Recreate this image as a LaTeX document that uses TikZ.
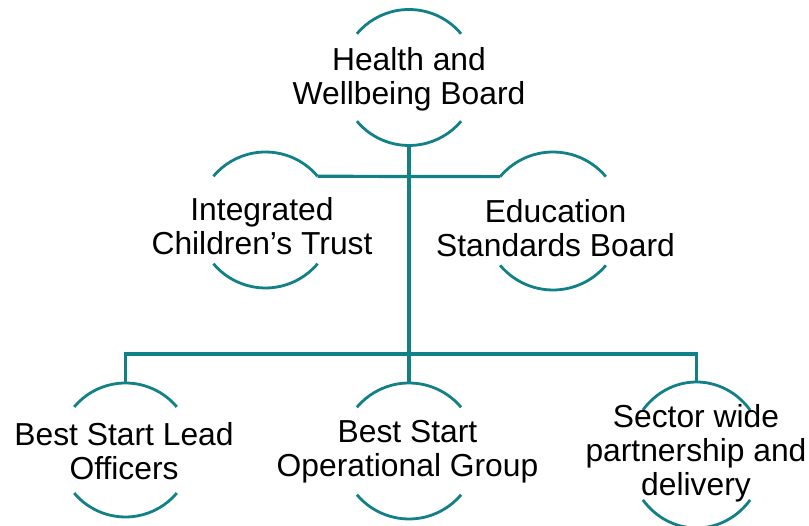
\documentclass[tikz,border=0pt]{standalone}
\usepackage{fontspec}
\setmainfont{Liberation Sans}
\usetikzlibrary{shapes.geometric}
\definecolor{teal1}{RGB}{18,128,135}
\begin{document}
\begin{tikzpicture}[x=1pt,y=1pt,
  bub/.style={circle,draw=none,inner sep=0pt,outer sep=0pt,minimum size=#1},
  ebub/.style={ellipse,draw=none,inner sep=0pt,outer sep=0pt,minimum width=136pt,minimum height=146pt},
  txt/.style={align=center,font=\fontsize{31.8}{34}\selectfont,inner sep=0pt},
  ln/.style={draw=teal1,line width=3.2pt},
  ar/.style={draw=teal1,line width=2.8pt}]
\useasboundingbox (0,0) rectangle (809,526);
% circles (geometry)
\node[bub=136pt] (hw)  at (409,448.5) {};
\node[bub=136pt] (ict) at (265.5,306) {};
\node[bub=138pt] (esb) at (553,305) {};
\node[bub=134pt] (lo)  at (125.5,76) {};
\node[bub=136pt] (og)  at (409,75) {};
\node[ebub] (sec) at (696.5,71) {};
% arcs
\draw[ar] (hw.40) arc[start angle=40,end angle=140,radius=68pt];
\draw[ar] (hw.220) arc[start angle=220,end angle=320,radius=68pt];
\draw[ar] (ict.40) arc[start angle=40,end angle=140,radius=68pt];
\draw[ar] (ict.220) arc[start angle=220,end angle=320,radius=68pt];
\draw[ar] (esb.40) arc[start angle=40,end angle=140,radius=69pt];
\draw[ar] (esb.220) arc[start angle=220,end angle=320,radius=69pt];
\draw[ar] (lo.40) arc[start angle=40,end angle=140,radius=67pt];
\draw[ar] (lo.220) arc[start angle=220,end angle=320,radius=67pt];
\draw[ar] (og.40) arc[start angle=40,end angle=140,radius=68pt];
\draw[ar] (og.220) arc[start angle=220,end angle=320,radius=68pt];
\draw[ar] ([shift={(38:68pt and 73pt)}]sec.center) arc[start angle=38,end angle=142,x radius=68pt,y radius=73pt];
\draw[ar] ([shift={(218:68pt and 73pt)}]sec.center) arc[start angle=218,end angle=322,x radius=68pt,y radius=73pt];
% texts
\node[txt] (hwt)  at (409,447) {Health and\\Wellbeing Board};
\node[txt] (ictt) at (262,299.5) {Integrated\\Children’s Trust};
\node[txt] (esbt) at (555.5,298) {Education\\Standards Board};
\node[txt] (lot)  at (124,74.5) {Best Start Lead\\Officers};
\node[txt] (ogt)  at (407.5,74.5) {Best Start\\Operational Group};
\node[txt] (sect) at (696,73) {Sector wide\\partnership and\\delivery};
% connectors
\draw[ln] (hw.south) -- (og.north);
\draw[ln] (ict.40) -- (esb.140);
\draw[ln] (lo.north) -- ++(0,29) -| (sec.north);
\end{tikzpicture}
\end{document}
